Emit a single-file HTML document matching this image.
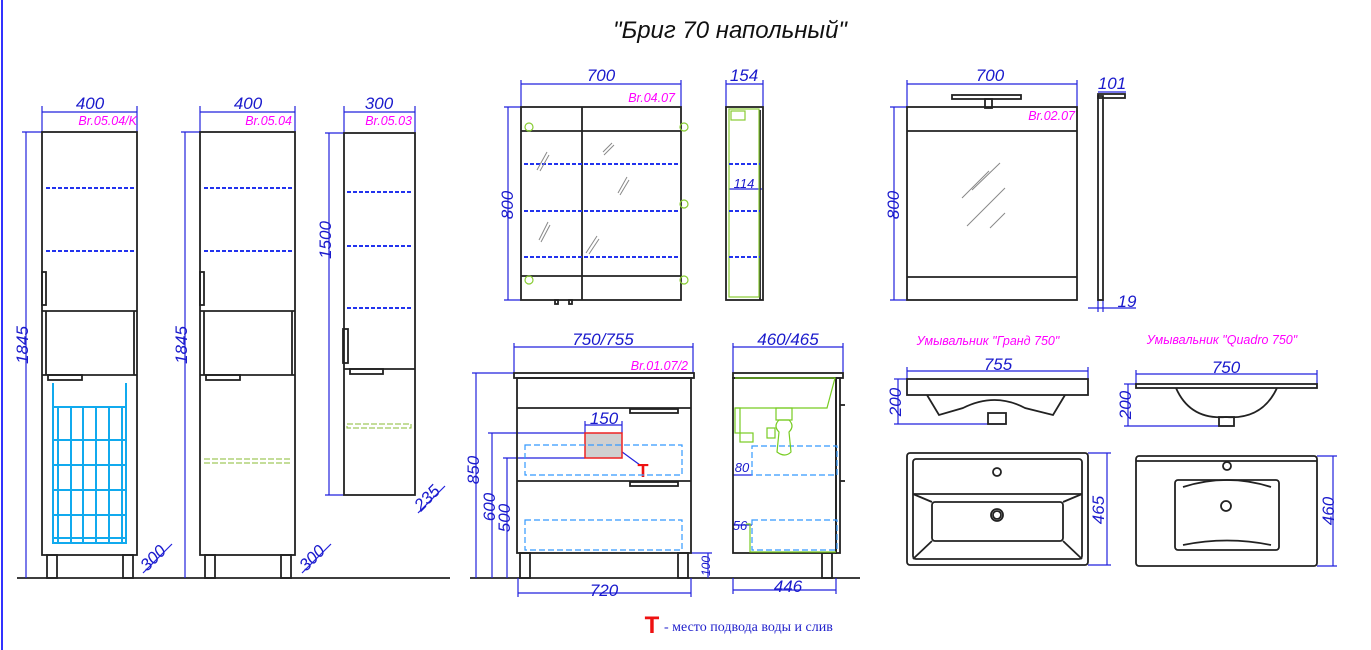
<!DOCTYPE html>
<html><head><meta charset="utf-8"><style>
html,body{margin:0;padding:0;background:#fff}
svg{display:block}
text{font-family:"Liberation Sans",sans-serif;font-style:italic}
.d{fill:#1a1acc;font-size:17px}
.m{fill:#ff00ff;font-size:12.5px}
</style></head><body>
<svg width="1371" height="650" viewBox="0 0 1371 650" xmlns="http://www.w3.org/2000/svg">
<rect width="1371" height="650" fill="#fff"/>
<line x1="2" y1="0" x2="2" y2="650" stroke="#3333ff" stroke-width="2"/>
<text x="730" y="38" text-anchor="middle" style="font-size:24px" fill="#111">"Бриг 70 напольный"</text>

<g stroke="#222" stroke-width="1.8">
<line x1="17" y1="578" x2="450" y2="578"/><line x1="470" y1="578" x2="860" y2="578"/>
</g>

<g stroke="#2222dd" stroke-width="1.2" fill="none">
<line x1="42" y1="112" x2="137" y2="112"/><line x1="42" y1="106" x2="42" y2="132"/><line x1="137" y1="106" x2="137" y2="132"/>
<line x1="26" y1="132" x2="26" y2="578"/><line x1="22" y1="132" x2="42" y2="132"/>
<line x1="143" y1="573" x2="172" y2="544"/>
<line x1="200" y1="112" x2="295" y2="112"/><line x1="200" y1="106" x2="200" y2="132"/><line x1="295" y1="106" x2="295" y2="132"/>
<line x1="185" y1="132" x2="185" y2="578"/><line x1="181" y1="132" x2="200" y2="132"/>
<line x1="302" y1="573" x2="331" y2="544"/>
<line x1="344" y1="112" x2="415" y2="112"/><line x1="344" y1="106" x2="344" y2="133"/><line x1="415" y1="106" x2="415" y2="133"/>
<line x1="329" y1="133" x2="329" y2="495"/><line x1="325" y1="133" x2="344" y2="133"/><line x1="325" y1="495" x2="344" y2="495"/>
<line x1="418" y1="513" x2="445" y2="486"/>
<line x1="521" y1="84" x2="681" y2="84"/><line x1="521" y1="80" x2="521" y2="107"/><line x1="681" y1="80" x2="681" y2="107"/>
<line x1="508" y1="107" x2="508" y2="300"/><line x1="504" y1="107" x2="521" y2="107"/><line x1="504" y1="300" x2="521" y2="300"/>
<line x1="726" y1="84" x2="763" y2="84"/><line x1="726" y1="80" x2="726" y2="107"/><line x1="763" y1="80" x2="763" y2="107"/>
<line x1="729" y1="189" x2="762" y2="189"/>
<line x1="907" y1="84" x2="1077" y2="84"/><line x1="907" y1="80" x2="907" y2="107"/><line x1="1077" y1="80" x2="1077" y2="107"/>
<line x1="894" y1="107" x2="894" y2="300"/><line x1="890" y1="107" x2="907" y2="107"/><line x1="890" y1="300" x2="907" y2="300"/>
<line x1="1098" y1="92" x2="1126" y2="92"/><line x1="1088" y1="308" x2="1136" y2="308"/><line x1="1098" y1="300" x2="1098" y2="312"/><line x1="1103" y1="300" x2="1103" y2="312"/>
<line x1="514" y1="347" x2="693" y2="347"/><line x1="514" y1="343" x2="514" y2="373"/><line x1="693" y1="343" x2="693" y2="373"/>
<line x1="476" y1="373" x2="476" y2="578"/><line x1="472" y1="373" x2="514" y2="373"/>
<line x1="492" y1="433" x2="492" y2="578"/><line x1="488" y1="433" x2="585" y2="433"/>
<line x1="507" y1="458" x2="507" y2="578"/><line x1="503" y1="458" x2="585" y2="458"/>
<line x1="585" y1="425" x2="622" y2="425"/><line x1="585" y1="421" x2="585" y2="433"/><line x1="622" y1="421" x2="622" y2="433"/>
<line x1="614" y1="446" x2="640" y2="465"/>
<line x1="518" y1="593" x2="691" y2="593"/><line x1="518" y1="578" x2="518" y2="597"/><line x1="691" y1="578" x2="691" y2="597"/>
<line x1="708" y1="553" x2="708" y2="578"/><line x1="691" y1="553" x2="712" y2="553"/>
<line x1="733" y1="347" x2="843" y2="347"/><line x1="733" y1="343" x2="733" y2="373"/><line x1="843" y1="343" x2="843" y2="373"/>
<line x1="733" y1="590" x2="836" y2="590"/><line x1="733" y1="578" x2="733" y2="594"/><line x1="836" y1="578" x2="836" y2="594"/>
<line x1="733" y1="475" x2="752" y2="475"/><line x1="733" y1="525" x2="752" y2="525"/>
<line x1="907" y1="371" x2="1088" y2="371"/><line x1="907" y1="367" x2="907" y2="379"/><line x1="1088" y1="367" x2="1088" y2="379"/>
<line x1="898" y1="379" x2="898" y2="424"/><line x1="894" y1="379" x2="907" y2="379"/><line x1="894" y1="424" x2="1005" y2="424"/>
<line x1="1107" y1="453" x2="1107" y2="565"/><line x1="1088" y1="453" x2="1111" y2="453"/><line x1="1088" y1="565" x2="1111" y2="565"/>
<line x1="1136" y1="374" x2="1317" y2="374"/><line x1="1136" y1="370" x2="1136" y2="384"/><line x1="1317" y1="370" x2="1317" y2="384"/>
<line x1="1128" y1="384" x2="1128" y2="426"/><line x1="1124" y1="384" x2="1136" y2="384"/><line x1="1124" y1="426" x2="1230" y2="426"/>
<line x1="1333" y1="456" x2="1333" y2="566"/><line x1="1317" y1="456" x2="1337" y2="456"/><line x1="1317" y1="566" x2="1337" y2="566"/>
</g>

<text class="d" x="90" y="109" text-anchor="middle">400</text>
<text class="d" x="248" y="109" text-anchor="middle">400</text>
<text class="d" x="379" y="109" text-anchor="middle">300</text>
<text class="d" transform="translate(28,345) rotate(-90)" text-anchor="middle">1845</text>
<text class="d" transform="translate(187,345) rotate(-90)" text-anchor="middle">1845</text>
<text class="d" transform="translate(331,240) rotate(-90)" text-anchor="middle">1500</text>
<text class="d" transform="translate(157,562) rotate(-45)" text-anchor="middle">300</text>
<text class="d" transform="translate(316,562) rotate(-45)" text-anchor="middle">300</text>
<text class="d" transform="translate(431,502) rotate(-45)" text-anchor="middle">235</text>
<text class="m" x="137" y="125" text-anchor="end">Br.05.04/K</text>
<text class="m" x="292" y="125" text-anchor="end">Br.05.04</text>
<text class="m" x="412" y="125" text-anchor="end">Br.05.03</text>
<text class="d" x="601" y="81" text-anchor="middle">700</text>
<text class="m" x="675" y="102" text-anchor="end">Br.04.07</text>
<text class="d" transform="translate(513,205) rotate(-90)" text-anchor="middle">800</text>
<text class="d" x="744" y="81" text-anchor="middle">154</text>
<text class="d" x="744" y="188" text-anchor="middle" style="font-size:13px">114</text>
<text class="d" x="990" y="81" text-anchor="middle">700</text>
<text class="m" x="1075" y="120" text-anchor="end">Br.02.07</text>
<text class="d" transform="translate(899,205) rotate(-90)" text-anchor="middle">800</text>
<text class="d" x="1112" y="89" text-anchor="middle">101</text>
<text class="d" x="1127" y="307" text-anchor="middle">19</text>
<text class="d" x="603" y="345" text-anchor="middle">750/755</text>
<text class="m" x="688" y="370" text-anchor="end">Br.01.07/2</text>
<text class="d" transform="translate(479,470) rotate(-90)" text-anchor="middle">850</text>
<text class="d" transform="translate(495,507) rotate(-90)" text-anchor="middle">600</text>
<text class="d" transform="translate(510,518) rotate(-90)" text-anchor="middle">500</text>
<text class="d" x="604" y="424" text-anchor="middle">150</text>
<text class="d" x="604" y="596" text-anchor="middle">720</text>
<text class="d" transform="translate(710,566) rotate(-90)" text-anchor="middle" style="font-size:12px">100</text>
<text class="d" x="788" y="345" text-anchor="middle">460/465</text>
<text class="d" x="788" y="592" text-anchor="middle">446</text>
<text class="d" x="742" y="472" text-anchor="middle" style="font-size:13px">80</text>
<text class="d" x="740" y="530" text-anchor="middle" style="font-size:13px">56</text>
<text class="m" x="988" y="345" text-anchor="middle">Умывальник "Гранд 750"</text>
<text class="m" x="1222" y="344" text-anchor="middle">Умывальник "Quadro 750"</text>
<text class="d" x="998" y="370" text-anchor="middle">755</text>
<text class="d" x="1226" y="373" text-anchor="middle">750</text>
<text class="d" transform="translate(901,402) rotate(-90)" text-anchor="middle">200</text>
<text class="d" transform="translate(1131,405) rotate(-90)" text-anchor="middle">200</text>
<text class="d" transform="translate(1104,510) rotate(-90)" text-anchor="middle">465</text>
<text class="d" transform="translate(1334,511) rotate(-90)" text-anchor="middle">460</text>

<g stroke="#222" stroke-width="1.8" fill="none">
<rect x="42" y="132" width="95" height="423"/><line x1="42" y1="311" x2="137" y2="311"/><line x1="42" y1="375" x2="137" y2="375"/>
<rect x="42" y="272" width="4" height="33"/><rect x="48" y="375" width="34" height="5"/>
<line x1="46" y1="311" x2="46" y2="375"/><line x1="134" y1="311" x2="134" y2="375"/>
<rect x="47" y="555" width="10" height="23"/><rect x="123" y="555" width="10" height="23"/>
<rect x="200" y="132" width="95" height="423"/><line x1="200" y1="311" x2="295" y2="311"/><line x1="200" y1="375" x2="295" y2="375"/>
<rect x="200" y="272" width="4" height="33"/><rect x="206" y="375" width="34" height="5"/>
<line x1="204" y1="311" x2="204" y2="375"/><line x1="292" y1="311" x2="292" y2="375"/>
<rect x="205" y="555" width="10" height="23"/><rect x="281" y="555" width="10" height="23"/>
<rect x="344" y="133" width="71" height="362"/><line x1="344" y1="369" x2="415" y2="369"/>
<rect x="343" y="329" width="5" height="34"/><rect x="350" y="369" width="33" height="5"/>
</g>
<g stroke="#2233ee" stroke-width="2" stroke-dasharray="4,2">
<line x1="46" y1="188" x2="134" y2="188"/><line x1="46" y1="251" x2="134" y2="251"/>
<line x1="204" y1="188" x2="292" y2="188"/><line x1="204" y1="251" x2="292" y2="251"/>
<line x1="347" y1="192" x2="412" y2="192"/><line x1="347" y1="246" x2="412" y2="246"/><line x1="347" y1="308" x2="412" y2="308"/>
</g>
<g stroke="#88bb33" stroke-width="1" stroke-dasharray="6,2" fill="none">
<line x1="204" y1="459" x2="292" y2="459"/><line x1="204" y1="463" x2="292" y2="463"/>
<rect x="347" y="424" width="64" height="4"/>
</g>
<g stroke="#11aaee" stroke-width="2" fill="none">
<polyline points="53,383 53,543 126,543 126,383"/>
<line x1="53" y1="407" x2="126" y2="407"/><line x1="53" y1="440" x2="126" y2="440"/><line x1="53" y1="465" x2="126" y2="465"/>
<line x1="53" y1="490" x2="126" y2="490"/><line x1="53" y1="515" x2="126" y2="515"/><line x1="53" y1="538" x2="126" y2="538"/>
<line x1="58" y1="407" x2="58" y2="543"/><line x1="71" y1="407" x2="71" y2="543"/><line x1="83" y1="407" x2="83" y2="543"/>
<line x1="96" y1="407" x2="96" y2="543"/><line x1="109" y1="407" x2="109" y2="543"/><line x1="122" y1="407" x2="122" y2="543"/>
</g>

<g stroke="#222" stroke-width="1.8" fill="none">
<rect x="521" y="107" width="160" height="193"/><line x1="582" y1="107" x2="582" y2="300"/>
<line x1="521" y1="131" x2="681" y2="131"/><line x1="521" y1="276" x2="681" y2="276"/>
<rect x="555" y="300" width="3" height="4"/><rect x="569" y="300" width="3" height="4"/>
<rect x="726" y="107" width="37" height="193"/><line x1="760" y1="110" x2="760" y2="300"/>
<rect x="907" y="107" width="170" height="193"/><line x1="907" y1="131" x2="1077" y2="131"/><line x1="907" y1="277" x2="1077" y2="277"/>
<rect x="952" y="95" width="69" height="4"/><rect x="985" y="99" width="7" height="9"/>
<rect x="1098" y="96" width="5" height="204"/><rect x="1098" y="94" width="27" height="4"/>
</g>
<g stroke="#88cc33" stroke-width="1.2" fill="none">
<circle cx="529" cy="127" r="4"/><circle cx="684" cy="127" r="4"/><circle cx="684" cy="204" r="4"/><circle cx="529" cy="280" r="4"/><circle cx="684" cy="280" r="4"/>
<rect x="729" y="109" width="30" height="188"/><rect x="731" y="111" width="14" height="9"/>
</g>
<g stroke="#2233ee" stroke-width="2" stroke-dasharray="4,2">
<line x1="524" y1="164" x2="680" y2="164"/><line x1="524" y1="211" x2="680" y2="211"/><line x1="524" y1="257" x2="680" y2="257"/>
<line x1="729" y1="164" x2="760" y2="164"/><line x1="729" y1="211" x2="760" y2="211"/><line x1="729" y1="257" x2="760" y2="257"/>
</g>
<g stroke="#888" stroke-width="1">
<line x1="537" y1="170" x2="547" y2="152"/><line x1="540" y1="171" x2="549" y2="155"/>
<line x1="603" y1="152" x2="612" y2="143"/><line x1="604" y1="155" x2="614" y2="145"/>
<line x1="618" y1="193" x2="627" y2="177"/><line x1="620" y1="195" x2="629" y2="180"/>
<line x1="539" y1="240" x2="548" y2="222"/><line x1="541" y1="242" x2="550" y2="225"/>
<line x1="586" y1="253" x2="597" y2="236"/><line x1="589" y1="254" x2="599" y2="239"/>
<line x1="962" y1="198" x2="989" y2="171"/><line x1="972" y1="190" x2="1000" y2="163"/>
<line x1="967" y1="226" x2="1005" y2="188"/><line x1="990" y1="228" x2="1005" y2="213"/>
</g>

<g stroke="#222" stroke-width="1.8" fill="none">
<rect x="514" y="373" width="180" height="5"/>
<rect x="517" y="378" width="174" height="175"/>
<line x1="517" y1="408" x2="691" y2="408"/><line x1="517" y1="481" x2="691" y2="481"/>
<rect x="630" y="409" width="48" height="4"/><rect x="630" y="482" width="48" height="4"/>
<rect x="520" y="553" width="10" height="25"/><rect x="678" y="553" width="10" height="25"/>
<rect x="733" y="373" width="110" height="5"/>
<rect x="733" y="378" width="103" height="175"/><rect x="836" y="378" width="4" height="175"/>
<line x1="840" y1="405" x2="845" y2="405"/><line x1="840" y1="481" x2="845" y2="481"/>
<rect x="822" y="553" width="10" height="25"/>
</g>
<rect x="585" y="433" width="37" height="25" fill="#d0d0d0" stroke="#ee2222" stroke-width="1.5"/>
<text x="643" y="477" text-anchor="middle" style="font-size:18px;font-weight:bold;font-style:normal" fill="#ee1111">T</text>
<g stroke="#3399ff" stroke-width="1.2" stroke-dasharray="6,3" fill="none">
<rect x="525" y="445" width="157" height="30"/><rect x="525" y="520" width="157" height="30"/>
<rect x="752" y="446" width="85" height="29"/><rect x="752" y="520" width="85" height="30"/>
</g>
<g stroke="#77cc22" stroke-width="1.2" fill="none">
<polyline points="735,378 835,378 827,408 735,408"/>
<rect x="776" y="408" width="16" height="12"/>
<path d="M779,420 q-6,6 0,12 l-2,20 q8,6 14,0 l-2,-20 q6,-6 0,-12 z"/>
<rect x="767" y="428" width="8" height="10"/>
<rect x="735" y="408" width="5" height="25"/><rect x="740" y="433" width="13" height="9"/>
<polyline points="746,524 750,524 750,552 836,552"/>
</g>

<g stroke="#222" stroke-width="1.8" fill="none">
<rect x="907" y="379" width="181" height="16"/>
<path d="M927,395 L939,415 L963,408 Q995,392 1025,408 L1053,415 L1065,395"/>
<rect x="988" y="413" width="18" height="11"/>
<rect x="907" y="453" width="181" height="112" rx="3"/>
<rect x="913" y="459" width="169" height="100" rx="3"/>
<line x1="913" y1="494" x2="1082" y2="494"/>
<rect x="932" y="502" width="131" height="39" rx="3"/>
<line x1="913" y1="494" x2="932" y2="502"/><line x1="1082" y1="494" x2="1063" y2="502"/>
<line x1="913" y1="559" x2="932" y2="541"/><line x1="1082" y1="559" x2="1063" y2="541"/>
<circle cx="997" cy="472" r="4"/><circle cx="997" cy="515" r="6"/><circle cx="997" cy="515" r="4"/>
<rect x="1136" y="384" width="181" height="4"/>
<path d="M1176,388 Q1190,420 1226,417 Q1262,420 1277,388"/>
<rect x="1219" y="417" width="15" height="9"/>
<rect x="1136" y="456" width="181" height="110" rx="3"/>
<line x1="1136" y1="461" x2="1317" y2="461"/>
<circle cx="1227" cy="466" r="4"/>
<rect x="1175" y="480" width="104" height="70" rx="3"/>
<path d="M1183,487 Q1227,473 1271,487"/><path d="M1183,545 Q1227,536 1271,545"/>
<circle cx="1226" cy="506" r="5"/>
</g>

<text x="652" y="633" text-anchor="middle" style="font-size:24px;font-weight:bold;font-style:normal" fill="#ee1111">T</text>
<text x="664" y="631" style="font-family:'Liberation Serif',serif;font-style:normal;font-size:14px" fill="#2222cc">- место подвода воды и слив</text>
</svg>
</body></html>
